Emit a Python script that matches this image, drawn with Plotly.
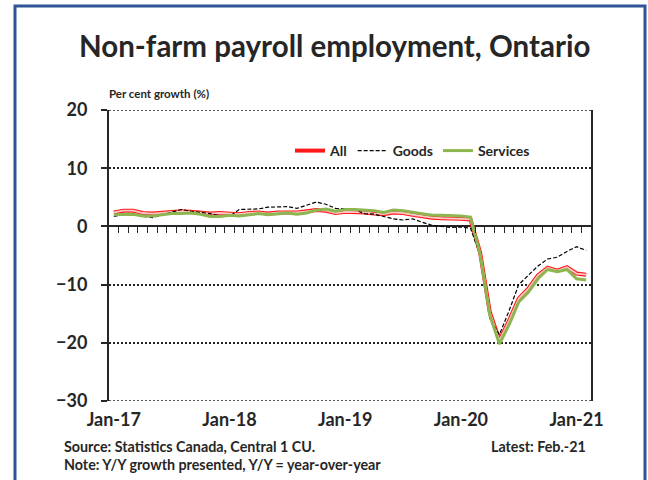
import pandas as pd
import plotly.graph_objects as go

# ---- data (Jan-2017 .. Feb-2021, monthly, y/y %) ----
months = pd.date_range("2017-01-01", periods=50, freq="MS").strftime("%b-%y").tolist()

all_vals = [2.4, 2.7, 2.7, 2.3, 2.2, 2.3, 2.4, 2.6, 2.5, 2.3, 2.2, 2.3,
            2.2, 2.1, 2.3, 2.4, 2.2, 2.4, 2.4, 2.4, 2.6, 2.8, 2.7, 2.3,
            2.5, 2.5, 2.4, 2.2, 2.1, 2.4, 2.3, 2.0, 1.7, 1.5, 1.4, 1.4,
            1.3, 1.2, -4.5, -14.7, -19.6, -16.2, -12.4, -10.7, -8.4, -7.1, -7.6, -7.0,
            -8.1, -8.3]

goods_vals = [1.7, 2.1, 2.0, 1.7, 1.5, 2.0, 2.4, 2.9, 2.6, 2.4, 2.2, 1.8,
              1.7, 2.9, 2.9, 3.0, 3.3, 3.3, 3.4, 3.1, 3.6, 4.2, 3.8, 3.1,
              3.0, 2.9, 2.2, 2.1, 1.7, 1.3, 1.1, 1.3, 0.7, 0.2, 0.0, -0.2,
              -0.1, -0.3, -5.0, -15.8, -18.6, -14.5, -10.0, -8.4, -6.8, -5.6, -5.3, -4.3,
              -3.5, -4.1]

services_vals = [2.0, 2.1, 2.1, 1.8, 1.8, 2.0, 2.2, 2.2, 2.3, 2.1, 1.7, 1.7,
                 1.9, 1.8, 2.0, 2.2, 2.0, 2.2, 2.3, 2.1, 2.3, 2.8, 3.0, 2.6,
                 2.9, 2.9, 2.8, 2.7, 2.4, 2.8, 2.7, 2.4, 2.1, 1.9, 1.9, 1.9,
                 1.8, 1.6, -4.8, -15.2, -20.2, -16.9, -13.0, -11.3, -9.0, -7.4, -7.8, -7.4,
                 -9.0, -9.2]

year_ticks = ["Jan-17", "Jan-18", "Jan-19", "Jan-20", "Jan-21"]
y_ticks = [20, 10, 0, -10, -20, -30]
y_min, y_max = -30, 20

FONT = "Lato"
DARK = "#262626"

# plot-area pixel geometry
W, H = 648, 480
L, R, T, B = 109, 591, 110, 401
PW, PH = R - L, B - T


def px_x(px):
    return (px - L) / PW


def px_y(py):
    return (B - py) / PH


fig = go.Figure()

# All: red double-line look
fig.add_trace(go.Scatter(x=months, y=all_vals, mode="lines", name="All",
                         line=dict(color="#FF1A1A", width=4), legendgroup="all"))
fig.add_trace(go.Scatter(x=months, y=all_vals, mode="lines", name="All",
                         line=dict(color="#FFC8C8", width=1.8), legendgroup="all",
                         showlegend=False, hoverinfo="skip"))
fig.add_trace(go.Scatter(x=months, y=goods_vals, mode="lines", name="Goods",
                         line=dict(color="#000000", width=1.2, dash="4px,2px")))
fig.add_trace(go.Scatter(x=months, y=services_vals, mode="lines", name="Services",
                         line=dict(color="#8DB650", width=3)))
# carrier for the month tick axis at y=0
fig.add_trace(go.Scatter(x=[None], y=[None], xaxis="x2", showlegend=False,
                         hoverinfo="skip"))

zero_pos = (0 - y_min) / (y_max - y_min)

fig.update_layout(
    width=W, height=H,
    margin=dict(l=L, r=W - R, t=T, b=H - B, pad=0),
    paper_bgcolor="white", plot_bgcolor="white",
    font=dict(family=FONT, color=DARK),
    showlegend=True,
    legend=dict(orientation="h", x=px_x(290), y=px_y(151), xanchor="left",
                yanchor="middle", bgcolor="rgba(0,0,0,0)",
                font=dict(family=FONT, size=14, color=DARK, weight="bold"),
                itemwidth=30, traceorder="normal"),
    xaxis=dict(type="category", range=[-0.5, 49.5],
               tickmode="array", tickvals=year_ticks, ticktext=year_ticks,
               showgrid=False, showline=False, zeroline=False, ticks="",
               tickfont=dict(family=FONT, size=18, color=DARK, weight="bold"),
               ticklabelstandoff=6),
    xaxis2=dict(overlaying="x", anchor="free", position=zero_pos,
                range=[-0.5, 49.5], type="linear",
                tickmode="array", tickvals=[i + 0.5 for i in range(49)],
                ticks="outside", ticklen=6, tickwidth=1.3, tickcolor=DARK,
                showticklabels=False, showgrid=False, showline=False,
                zeroline=False),
    yaxis=dict(range=[y_min, y_max], tickmode="array", tickvals=y_ticks,
               ticks="outside", ticklen=6, tickwidth=1.5, tickcolor=DARK,
               showline=True, mirror=True, linewidth=2, linecolor=DARK,
               showgrid=True, gridcolor="#222222", gridwidth=1.5, griddash="2px,2px",
               zeroline=True, zerolinecolor=DARK, zerolinewidth=2,
               tickfont=dict(family=FONT, size=18, color=DARK, weight="bold"),
               ticklabelstandoff=10),
)

# dotted top and bottom edges of the plot frame
for yv in (y_max, y_min):
    fig.add_shape(type="line", xref="paper", yref="y", x0=0, x1=1, y0=yv, y1=yv,
                  line=dict(color="#222222", width=1.5, dash="2px,2px"), layer="above")

# outer border
fig.add_shape(type="rect", xref="paper", yref="paper",
              x0=px_x(15), x1=px_x(645), y0=px_y(495), y1=px_y(6),
              line=dict(color="#2F5597", width=3), fillcolor="rgba(0,0,0,0)",
              layer="below")

annots = [
    dict(text="<b>Non-farm payroll employment, Ontario</b>", x=px_x(334), y=px_y(46),
         xanchor="center", yanchor="middle", font=dict(size=29.5, color=DARK)),
    dict(text="<b>Per cent growth (%)</b>", x=px_x(107), y=px_y(93),
         xanchor="left", yanchor="middle", font=dict(size=11.5, color=DARK)),
    dict(text="<b>Source: Statistics Canada, Central 1 CU.</b>", x=px_x(62), y=px_y(447),
         xanchor="left", yanchor="middle", font=dict(size=14.3, color=DARK)),
    dict(text="<b>Latest: Feb.-21</b>", x=px_x(588), y=px_y(447),
         xanchor="right", yanchor="middle", font=dict(size=14.3, color=DARK)),
    dict(text="<b>Note: Y/Y growth presented, Y/Y = year-over-year</b>", x=px_x(62), y=px_y(464),
         xanchor="left", yanchor="middle", font=dict(size=14.3, color=DARK)),
]
for a in annots:
    fig.add_annotation(xref="paper", yref="paper", showarrow=False,
                       font_family=FONT, **a)

fig.write_html("out.html")
